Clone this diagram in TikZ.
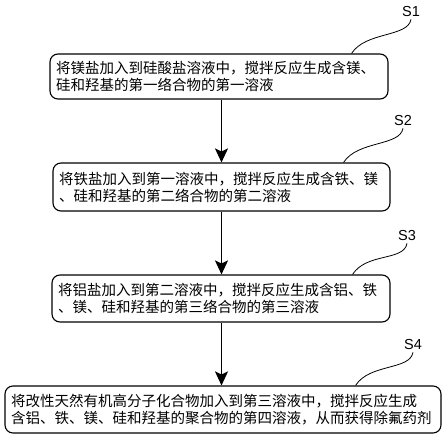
\documentclass[tikz,border=0pt]{standalone}
\usepackage{fontspec}
\setmainfont{Liberation Sans}
\newfontfamily\cjk{Noto Sans CJK SC}
\usetikzlibrary{arrows.meta}

\begin{document}
\begin{tikzpicture}[x=1pt,y=-1pt,
        stepbox/.style={draw, line width=1.1pt, rounded corners=8pt, align=left,
            inner xsep=6pt, inner ysep=0pt, font=\cjk\fontsize{14.5}{17}\selectfont},
        steplabel/.style={font=\fontsize{14.5}{16}\selectfont, inner sep=2pt},
        flecha/.style={line width=1.6pt, -{Stealth[length=14pt,width=13pt,inset=3pt]}},
        guia/.style={line width=0.8pt}]
        % Marco de la figura
        \useasboundingbox (0,0) rectangle (444,439);

        % Cajas de los pasos
        \node[stepbox, text width=326pt, minimum height=45pt] (s1) at (219,76.5)
            {将镁盐加入到硅酸盐溶液中，搅拌反应生成含镁、\\硅和羟基的第一络合物的第一溶液};
        \node[stepbox, text width=325pt, minimum height=48pt] (s2) at (221.5,187)
            {将铁盐加入到第一溶液中，搅拌反应生成含铁、镁\\、硅和羟基的第二络合物的第二溶液};
        \node[stepbox, text width=326pt, minimum height=47pt] (s3) at (221,298.5)
            {将铝盐加入到第二溶液中，搅拌反应生成含铝、铁\\、镁、硅和羟基的第三络合物的第三溶液};
        \node[stepbox, text width=424pt, minimum height=47pt] (s4) at (223,409.5)
            {将改性天然有机高分子化合物加入到第三溶液中，搅拌反应生成\\含铝、铁、镁、硅和羟基的聚合物的第四溶液，从而获得除氟药剂};

        % Etiquetas S1--S4
        \node[steplabel] (l1) at (411,12) {S1};
        \node[steplabel] (l2) at (403,121) {S2};
        \node[steplabel] (l3) at (407,236) {S3};
        \node[steplabel] (l4) at (413,345) {S4};

        % Lineas guia de las etiquetas
        \draw[guia] (l1.south) .. controls +(-3,18) and +(14,-22) .. ([xshift=-37pt]s1.north east);
        \draw[guia] (l2.south) .. controls +(-3,18) and +(14,-22) .. ([xshift=-47pt]s2.north east);
        \draw[guia] (l3.south) .. controls +(-3,18) and +(14,-22) .. ([xshift=-38pt]s3.north east);
        \draw[guia] (l4.south) .. controls +(-3,18) and +(14,-22) .. ([xshift=-86pt]s4.north east);

        % Flechas entre pasos
        \draw[flecha] (s2.north |- s1.south) -- (s2.north);
        \draw[flecha] (s2.south) -- (s2.south |- s3.north);
        \draw[flecha] (s2.south |- s3.south) -- (s2.south |- s4.north);

    \end{tikzpicture}
\end{document}
